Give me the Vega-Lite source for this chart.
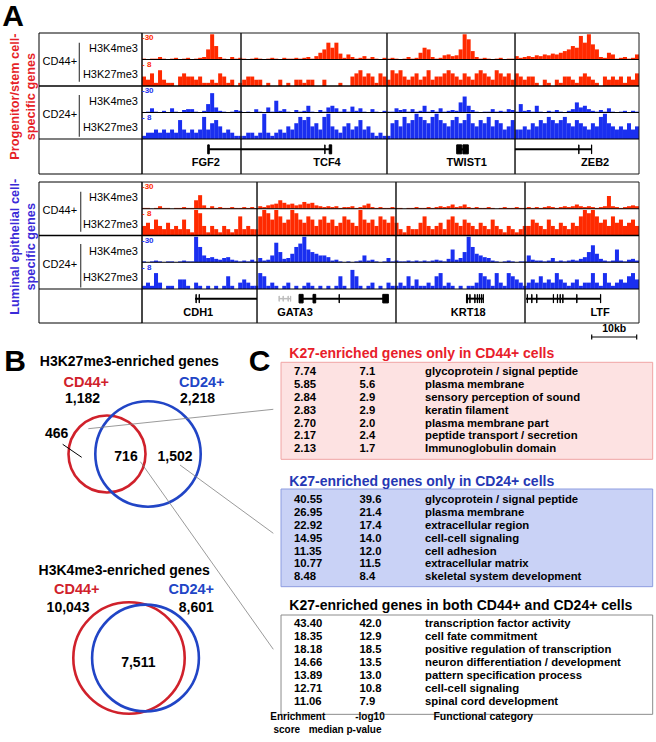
{
"$schema":"https://vega.github.io/schema/vega-lite/v6.json",
"width":656,"height":742,
"autosize":{"type":"none"},
"padding":0,
"background":"#ffffff",
"config":{"view":{"stroke":null},"axis":{"disable":true},"legend":{"disable":true},"font":"Liberation Sans"},
"data":{"values":[{}]},
"datasets":{
"signal":[
{"pos":0,"p1":1,"p2":3,"p3":0,"p4":1,"l1":1,"l2":3,"l3":1,"l4":1},
{"pos":1,"p1":0,"p2":2,"p3":1,"p4":2,"l1":1,"l2":4,"l3":0,"l4":2},
{"pos":2,"p1":1,"p2":4,"p3":5,"p4":2,"l1":0,"l2":2,"l3":1,"l4":1},
{"pos":3,"p1":1,"p2":1,"p3":1,"p4":3,"l1":1,"l2":5,"l3":2,"l4":5},
{"pos":4,"p1":3,"p2":5,"p3":0,"p4":2,"l1":3,"l2":3,"l3":1,"l4":2},
{"pos":5,"p1":1,"p2":2,"p3":2,"p4":3,"l1":1,"l2":2,"l3":0,"l4":0},
{"pos":6,"p1":0,"p2":1,"p3":0,"p4":2,"l1":1,"l2":4,"l3":1,"l4":1},
{"pos":7,"p1":1,"p2":1,"p3":5,"p4":3,"l1":0,"l2":2,"l3":1,"l4":1},
{"pos":8,"p1":2,"p2":0,"p3":1,"p4":2,"l1":1,"l2":3,"l3":0,"l4":0},
{"pos":9,"p1":0,"p2":3,"p3":0,"p4":6,"l1":1,"l2":2,"l3":1,"l4":3},
{"pos":10,"p1":1,"p2":4,"p3":3,"p4":3,"l1":2,"l2":5,"l3":2,"l4":3},
{"pos":11,"p1":2,"p2":3,"p3":4,"p4":2,"l1":1,"l2":2,"l3":1,"l4":1},
{"pos":12,"p1":0,"p2":3,"p3":4,"p4":3,"l1":1,"l2":1,"l3":1,"l4":0},
{"pos":13,"p1":1,"p2":2,"p3":1,"p4":2,"l1":10,"l2":8,"l3":30,"l4":2},
{"pos":14,"p1":2,"p2":3,"p3":0,"p4":3,"l1":16,"l2":7,"l3":18,"l4":1},
{"pos":15,"p1":3,"p2":1,"p3":2,"p4":7,"l1":4,"l2":3,"l3":8,"l4":0},
{"pos":16,"p1":12,"p2":1,"p3":10,"p4":3,"l1":1,"l2":1,"l3":5,"l4":1},
{"pos":17,"p1":30,"p2":2,"p3":23,"p4":5,"l1":3,"l2":3,"l3":6,"l4":0},
{"pos":18,"p1":16,"p2":1,"p3":6,"p4":6,"l1":1,"l2":2,"l3":4,"l4":1},
{"pos":19,"p1":3,"p2":4,"p3":2,"p4":4,"l1":2,"l2":1,"l3":3,"l4":0},
{"pos":20,"p1":1,"p2":3,"p3":1,"p4":2,"l1":1,"l2":3,"l3":5,"l4":1},
{"pos":21,"p1":0,"p2":1,"p3":0,"p4":3,"l1":1,"l2":2,"l3":6,"l4":4},
{"pos":22,"p1":3,"p2":2,"p3":1,"p4":2,"l1":2,"l2":1,"l3":3,"l4":1},
{"pos":23,"p1":1,"p2":0,"p3":3,"p4":1,"l1":1,"l2":2,"l3":2,"l4":0},
{"pos":24,"p1":2,"p2":1,"p3":2,"p4":1,"l1":1,"l2":6,"l3":1,"l4":2},
{"pos":25,"p1":1,"p2":2,"p3":0,"p4":1,"l1":2,"l2":2,"l3":2,"l4":3},
{"pos":26,"p1":0,"p2":3,"p3":1,"p4":2,"l1":1,"l2":3,"l3":1,"l4":2},
{"pos":27,"p1":1,"p2":3,"p3":0,"p4":2,"l1":2,"l2":2,"l3":3,"l4":1},
{"pos":28,"p1":2,"p2":2,"p3":4,"p4":1,"l1":1,"l2":2,"l3":1,"l4":1},
{"pos":29,"p1":1,"p2":2,"p3":1,"p4":2,"l1":3,"l2":6,"l3":5,"l4":5},
{"pos":30,"p1":0,"p2":0,"p3":0,"p4":8,"l1":2,"l2":8,"l3":2,"l4":4},
{"pos":31,"p1":1,"p2":1,"p3":6,"p4":2,"l1":4,"l2":7,"l3":3,"l4":1},
{"pos":32,"p1":2,"p2":0,"p3":1,"p4":1,"l1":5,"l2":5,"l3":8,"l4":2},
{"pos":33,"p1":1,"p2":0,"p3":14,"p4":2,"l1":6,"l2":8,"l3":23,"l4":1},
{"pos":34,"p1":0,"p2":2,"p3":2,"p4":3,"l1":10,"l2":6,"l3":12,"l4":0},
{"pos":35,"p1":2,"p2":0,"p3":4,"p4":2,"l1":7,"l2":4,"l3":4,"l4":1},
{"pos":36,"p1":1,"p2":1,"p3":1,"p4":4,"l1":5,"l2":5,"l3":5,"l4":2},
{"pos":37,"p1":1,"p2":0,"p3":0,"p4":3,"l1":6,"l2":8,"l3":10,"l4":0},
{"pos":38,"p1":2,"p2":2,"p3":3,"p4":5,"l1":4,"l2":7,"l3":18,"l4":1},
{"pos":39,"p1":1,"p2":2,"p3":1,"p4":7,"l1":5,"l2":5,"l3":22,"l4":0},
{"pos":40,"p1":2,"p2":1,"p3":2,"p4":6,"l1":8,"l2":4,"l3":30,"l4":1},
{"pos":41,"p1":3,"p2":2,"p3":8,"p4":7,"l1":6,"l2":6,"l3":15,"l4":2},
{"pos":42,"p1":1,"p2":2,"p3":1,"p4":4,"l1":7,"l2":5,"l3":12,"l4":1},
{"pos":43,"p1":4,"p2":0,"p3":0,"p4":5,"l1":4,"l2":3,"l3":10,"l4":0},
{"pos":44,"p1":8,"p2":0,"p3":3,"p4":3,"l1":3,"l2":5,"l3":8,"l4":1},
{"pos":45,"p1":12,"p2":2,"p3":1,"p4":7,"l1":2,"l2":6,"l3":8,"l4":0},
{"pos":46,"p1":20,"p2":0,"p3":6,"p4":8,"l1":3,"l2":4,"l3":6,"l4":1},
{"pos":47,"p1":14,"p2":0,"p3":8,"p4":4,"l1":2,"l2":5,"l3":2,"l4":0},
{"pos":48,"p1":20,"p2":0,"p3":5,"p4":3,"l1":3,"l2":3,"l3":3,"l4":1},
{"pos":49,"p1":7,"p2":1,"p3":1,"p4":2,"l1":1,"l2":4,"l3":1,"l4":4},
{"pos":50,"p1":2,"p2":0,"p3":4,"p4":4,"l1":2,"l2":6,"l3":0,"l4":1},
{"pos":51,"p1":6,"p2":0,"p3":1,"p4":5,"l1":2,"l2":5,"l3":1,"l4":0},
{"pos":52,"p1":3,"p2":3,"p3":7,"p4":3,"l1":3,"l2":4,"l3":0,"l4":6},
{"pos":53,"p1":1,"p2":4,"p3":2,"p4":4,"l1":1,"l2":3,"l3":1,"l4":4},
{"pos":54,"p1":2,"p2":5,"p3":5,"p4":6,"l1":2,"l2":8,"l3":2,"l4":1},
{"pos":55,"p1":4,"p2":3,"p3":1,"p4":3,"l1":4,"l2":5,"l3":8,"l4":0},
{"pos":56,"p1":1,"p2":4,"p3":0,"p4":4,"l1":6,"l2":4,"l3":2,"l4":1},
{"pos":57,"p1":3,"p2":3,"p3":4,"p4":2,"l1":2,"l2":5,"l3":3,"l4":2},
{"pos":58,"p1":1,"p2":1,"p3":1,"p4":1,"l1":1,"l2":3,"l3":1,"l4":0},
{"pos":59,"p1":0,"p2":4,"p3":0,"p4":2,"l1":2,"l2":6,"l3":0,"l4":1},
{"pos":60,"p1":2,"p2":3,"p3":2,"p4":1,"l1":1,"l2":5,"l3":1,"l4":0},
{"pos":61,"p1":1,"p2":2,"p3":1,"p4":1,"l1":1,"l2":4,"l3":5,"l4":2},
{"pos":62,"p1":2,"p2":5,"p3":1,"p4":5,"l1":2,"l2":6,"l3":1,"l4":1},
{"pos":63,"p1":1,"p2":4,"p3":5,"p4":6,"l1":1,"l2":4,"l3":2,"l4":1},
{"pos":64,"p1":0,"p2":5,"p3":3,"p4":4,"l1":1,"l2":2,"l3":1,"l4":2},
{"pos":65,"p1":1,"p2":3,"p3":4,"p4":7,"l1":0,"l2":1,"l3":1,"l4":1},
{"pos":66,"p1":3,"p2":2,"p3":1,"p4":5,"l1":1,"l2":3,"l3":2,"l4":4},
{"pos":67,"p1":1,"p2":3,"p3":4,"p4":6,"l1":1,"l2":2,"l3":1,"l4":1},
{"pos":68,"p1":2,"p2":4,"p3":1,"p4":8,"l1":2,"l2":2,"l3":2,"l4":3},
{"pos":69,"p1":8,"p2":2,"p3":2,"p4":7,"l1":1,"l2":4,"l3":1,"l4":1},
{"pos":70,"p1":14,"p2":3,"p3":8,"p4":6,"l1":1,"l2":6,"l3":2,"l4":1},
{"pos":71,"p1":12,"p2":5,"p3":1,"p4":5,"l1":2,"l2":3,"l3":1,"l4":2},
{"pos":72,"p1":3,"p2":2,"p3":3,"p4":7,"l1":1,"l2":2,"l3":2,"l4":1},
{"pos":73,"p1":1,"p2":3,"p3":1,"p4":8,"l1":2,"l2":3,"l3":3,"l4":4},
{"pos":74,"p1":2,"p2":3,"p3":5,"p4":6,"l1":3,"l2":4,"l3":2,"l4":5},
{"pos":75,"p1":5,"p2":4,"p3":1,"p4":5,"l1":2,"l2":2,"l3":1,"l4":1},
{"pos":76,"p1":6,"p2":5,"p3":2,"p4":4,"l1":3,"l2":5,"l3":4,"l4":2},
{"pos":77,"p1":4,"p2":4,"p3":3,"p4":6,"l1":5,"l2":6,"l3":15,"l4":1},
{"pos":78,"p1":5,"p2":3,"p3":2,"p4":7,"l1":2,"l2":4,"l3":3,"l4":0},
{"pos":79,"p1":12,"p2":2,"p3":12,"p4":5,"l1":3,"l2":3,"l3":5,"l4":1},
{"pos":80,"p1":30,"p2":4,"p3":19,"p4":6,"l1":5,"l2":5,"l3":12,"l4":0},
{"pos":81,"p1":24,"p2":3,"p3":8,"p4":8,"l1":2,"l2":4,"l3":30,"l4":1},
{"pos":82,"p1":10,"p2":2,"p3":3,"p4":5,"l1":1,"l2":3,"l3":18,"l4":1},
{"pos":83,"p1":3,"p2":4,"p3":1,"p4":4,"l1":2,"l2":2,"l3":10,"l4":2},
{"pos":84,"p1":1,"p2":5,"p3":0,"p4":6,"l1":1,"l2":4,"l3":8,"l4":5},
{"pos":85,"p1":2,"p2":4,"p3":1,"p4":5,"l1":1,"l2":3,"l3":6,"l4":4},
{"pos":86,"p1":1,"p2":3,"p3":1,"p4":7,"l1":2,"l2":2,"l3":5,"l4":3},
{"pos":87,"p1":0,"p2":2,"p3":4,"p4":4,"l1":1,"l2":5,"l3":2,"l4":1},
{"pos":88,"p1":1,"p2":5,"p3":1,"p4":6,"l1":0,"l2":3,"l3":1,"l4":5},
{"pos":89,"p1":2,"p2":4,"p3":2,"p4":5,"l1":1,"l2":2,"l3":0,"l4":2},
{"pos":90,"p1":0,"p2":3,"p3":1,"p4":3,"l1":2,"l2":1,"l3":1,"l4":1},
{"pos":91,"p1":1,"p2":4,"p3":4,"p4":4,"l1":1,"l2":3,"l3":2,"l4":5},
{"pos":92,"p1":1,"p2":2,"p3":3,"p4":6,"l1":1,"l2":2,"l3":1,"l4":4},
{"pos":93,"p1":4,"p2":4,"p3":1,"p4":3,"l1":2,"l2":1,"l3":0,"l4":3},
{"pos":94,"p1":2,"p2":3,"p3":10,"p4":3,"l1":1,"l2":2,"l3":1,"l4":2},
{"pos":95,"p1":3,"p2":2,"p3":2,"p4":4,"l1":1,"l2":3,"l3":1,"l4":1},
{"pos":96,"p1":4,"p2":3,"p3":3,"p4":3,"l1":2,"l2":3,"l3":8,"l4":2},
{"pos":97,"p1":3,"p2":3,"p3":1,"p4":5,"l1":1,"l2":5,"l3":3,"l4":3},
{"pos":98,"p1":5,"p2":1,"p3":8,"p4":4,"l1":2,"l2":4,"l3":2,"l4":2},
{"pos":99,"p1":4,"p2":0,"p3":1,"p4":6,"l1":1,"l2":3,"l3":2,"l4":4},
{"pos":100,"p1":6,"p2":2,"p3":0,"p4":5,"l1":2,"l2":2,"l3":1,"l4":2},
{"pos":101,"p1":5,"p2":1,"p3":2,"p4":7,"l1":3,"l2":5,"l3":2,"l4":3},
{"pos":102,"p1":7,"p2":0,"p3":1,"p4":6,"l1":2,"l2":3,"l3":5,"l4":2},
{"pos":103,"p1":6,"p2":2,"p3":3,"p4":5,"l1":1,"l2":2,"l3":1,"l4":5},
{"pos":104,"p1":8,"p2":1,"p3":1,"p4":6,"l1":2,"l2":4,"l3":2,"l4":3},
{"pos":105,"p1":10,"p2":3,"p3":0,"p4":7,"l1":3,"l2":3,"l3":1,"l4":2},
{"pos":106,"p1":12,"p2":3,"p3":2,"p4":5,"l1":2,"l2":2,"l3":2,"l4":1},
{"pos":107,"p1":16,"p2":2,"p3":4,"p4":4,"l1":3,"l2":4,"l3":3,"l4":2},
{"pos":108,"p1":14,"p2":1,"p3":12,"p4":6,"l1":5,"l2":3,"l3":2,"l4":3},
{"pos":109,"p1":28,"p2":3,"p3":6,"p4":5,"l1":3,"l2":6,"l3":4,"l4":1},
{"pos":110,"p1":20,"p2":4,"p3":8,"p4":4,"l1":2,"l2":8,"l3":6,"l4":2},
{"pos":111,"p1":30,"p2":3,"p3":4,"p4":3,"l1":3,"l2":7,"l3":12,"l4":2},
{"pos":112,"p1":18,"p2":2,"p3":2,"p4":5,"l1":2,"l2":8,"l3":20,"l4":5},
{"pos":113,"p1":12,"p2":1,"p3":1,"p4":4,"l1":1,"l2":6,"l3":10,"l4":2},
{"pos":114,"p1":3,"p2":0,"p3":3,"p4":7,"l1":2,"l2":4,"l3":4,"l4":1},
{"pos":115,"p1":2,"p2":3,"p3":1,"p4":8,"l1":3,"l2":5,"l3":2,"l4":5},
{"pos":116,"p1":8,"p2":2,"p3":5,"p4":5,"l1":15,"l2":3,"l3":1,"l4":2},
{"pos":117,"p1":6,"p2":3,"p3":1,"p4":4,"l1":3,"l2":6,"l3":2,"l4":1},
{"pos":118,"p1":1,"p2":2,"p3":0,"p4":3,"l1":2,"l2":4,"l3":15,"l4":2},
{"pos":119,"p1":2,"p2":3,"p3":1,"p4":4,"l1":1,"l2":5,"l3":2,"l4":3},
{"pos":120,"p1":3,"p2":1,"p3":2,"p4":3,"l1":2,"l2":3,"l3":1,"l4":2},
{"pos":121,"p1":1,"p2":3,"p3":0,"p4":5,"l1":3,"l2":4,"l3":3,"l4":4},
{"pos":122,"p1":2,"p2":2,"p3":2,"p4":3,"l1":4,"l2":5,"l3":4,"l4":5},
{"pos":123,"p1":6,"p2":4,"p3":1,"p4":4,"l1":3,"l2":3,"l3":2,"l4":3}
],
"windows":[
{"block":"stem","gene":"FGF2","winStart":0,"winEnd":22.0},
{"block":"stem","gene":"TCF4","winStart":22.0,"winEnd":54.44},
{"block":"stem","gene":"TWIST1","winStart":54.44,"winEnd":82.89},
{"block":"stem","gene":"ZEB2","winStart":82.89,"winEnd":110.44},
{"block":"luminal","gene":"CDH1","winStart":0,"winEnd":25.56},
{"block":"luminal","gene":"GATA3","winStart":25.56,"winEnd":56.44},
{"block":"luminal","gene":"KRT18","winStart":56.44,"winEnd":85.11},
{"block":"luminal","gene":"LTF","winStart":85.11,"winEnd":110.44}
],
"transcripts":[
{"block":"stem","gene":"FGF2","kind":"coding","start":14.73,"end":22.0,"tss":14.2},
{"block":"stem","gene":"TCF4","kind":"coding","start":22.0,"end":41.93,"tss":41.1},
{"block":"stem","gene":"TWIST1","kind":"coding","start":69.93,"end":72.51,"tss":72.15},
{"block":"stem","gene":"ZEB2","kind":"coding","start":82.89,"end":99.93,"tss":100.7},
{"block":"luminal","gene":"CDH1","kind":"coding","start":11.78,"end":25.56,"tss":12.5},
{"block":"luminal","gene":"GATA3-AS","kind":"noncoding","start":30.45,"end":33.05,"tss":30.45},
{"block":"luminal","gene":"GATA3","kind":"coding","start":34.96,"end":54.73,"tss":34.0},
{"block":"luminal","gene":"KRT18","kind":"coding","start":72.0,"end":75.84,"tss":72.5},
{"block":"luminal","gene":"LTF","kind":"coding","start":85.33,"end":101.93,"tss":101.8}
],
"exons":[
{"block":"stem","gene":"FGF2","kind":"coding","start":14.6,"end":14.95},
{"block":"stem","gene":"TCF4","kind":"coding","start":40.62,"end":40.67},
{"block":"stem","gene":"TCF4","kind":"coding","start":41.6,"end":42.15},
{"block":"stem","gene":"TWIST1","kind":"coding","start":69.93,"end":71.04},
{"block":"stem","gene":"TWIST1","kind":"coding","start":71.3,"end":72.51},
{"block":"stem","gene":"ZEB2","kind":"coding","start":97.05,"end":97.1},
{"block":"stem","gene":"ZEB2","kind":"coding","start":99.88,"end":99.93},
{"block":"luminal","gene":"CDH1","kind":"coding","start":12.0,"end":12.05},
{"block":"luminal","gene":"CDH1","kind":"coding","start":12.7,"end":12.75},
{"block":"luminal","gene":"GATA3-AS","kind":"noncoding","start":30.45,"end":30.5},
{"block":"luminal","gene":"GATA3-AS","kind":"noncoding","start":31.35,"end":31.4},
{"block":"luminal","gene":"GATA3-AS","kind":"noncoding","start":32.45,"end":32.5},
{"block":"luminal","gene":"GATA3-AS","kind":"noncoding","start":33.0,"end":33.05},
{"block":"luminal","gene":"GATA3","kind":"coding","start":34.9,"end":35.8},
{"block":"luminal","gene":"GATA3","kind":"coding","start":38.0,"end":38.6},
{"block":"luminal","gene":"GATA3","kind":"coding","start":43.8,"end":43.85},
{"block":"luminal","gene":"GATA3","kind":"coding","start":53.5,"end":54.75},
{"block":"luminal","gene":"KRT18","kind":"coding","start":72.1,"end":72.35},
{"block":"luminal","gene":"KRT18","kind":"coding","start":72.85,"end":72.9},
{"block":"luminal","gene":"KRT18","kind":"coding","start":73.95,"end":74.0},
{"block":"luminal","gene":"KRT18","kind":"coding","start":74.5,"end":74.55},
{"block":"luminal","gene":"KRT18","kind":"coding","start":74.95,"end":75.0},
{"block":"luminal","gene":"KRT18","kind":"coding","start":75.4,"end":75.45},
{"block":"luminal","gene":"KRT18","kind":"coding","start":75.8,"end":75.85},
{"block":"luminal","gene":"LTF","kind":"coding","start":85.6,"end":85.65},
{"block":"luminal","gene":"LTF","kind":"coding","start":86.6,"end":86.65},
{"block":"luminal","gene":"LTF","kind":"coding","start":87.7,"end":87.75},
{"block":"luminal","gene":"LTF","kind":"coding","start":91.4,"end":91.45},
{"block":"luminal","gene":"LTF","kind":"coding","start":92.3,"end":92.35},
{"block":"luminal","gene":"LTF","kind":"coding","start":92.9,"end":92.95},
{"block":"luminal","gene":"LTF","kind":"coding","start":93.5,"end":93.55},
{"block":"luminal","gene":"LTF","kind":"coding","start":96.6,"end":96.65},
{"block":"luminal","gene":"LTF","kind":"coding","start":101.88,"end":101.93}
],
"trackLabels":[
{"block":"stem","track":"p1","cell":"CD44+","mark":"H3K4me3","axisLabel":"-30"},
{"block":"stem","track":"p2","cell":"CD44+","mark":"H3K27me3","axisLabel":"- 8"},
{"block":"stem","track":"p3","cell":"CD24+","mark":"H3K4me3","axisLabel":"-30"},
{"block":"stem","track":"p4","cell":"CD24+","mark":"H3K27me3","axisLabel":"- 8"},
{"block":"luminal","track":"l1","cell":"CD44+","mark":"H3K4me3","axisLabel":"-30"},
{"block":"luminal","track":"l2","cell":"CD44+","mark":"H3K27me3","axisLabel":"- 8"},
{"block":"luminal","track":"l3","cell":"CD24+","mark":"H3K4me3","axisLabel":"-30"},
{"block":"luminal","track":"l4","cell":"CD24+","mark":"H3K27me3","axisLabel":"- 8"}
],
"venn":[
{"histone":"H3K27me3","set":"CD44+","total":1182},
{"histone":"H3K27me3","set":"CD24+","total":2218},
{"histone":"H3K4me3","set":"CD44+","total":10043},
{"histone":"H3K4me3","set":"CD24+","total":8601}
],
"vennRegions":[
{"histone":"H3K27me3","region":"CD44+ only","count":466},
{"histone":"H3K27me3","region":"both","count":716},
{"histone":"H3K27me3","region":"CD24+ only","count":1502},
{"histone":"H3K4me3","region":"both","count":7511}
],
"tables":[
{"group":"CD44+ only","title":"K27-enriched genes only in CD44+ cells"},
{"group":"CD24+ only","title":"K27-enriched genes only in CD24+ cells"},
{"group":"both","title":"K27-enriched genes in both CD44+ and CD24+ cells"}
],
"go":[
{"group":"CD44+ only","rank":1,"score":7.74,"pval":7.1,"category":"glycoprotein / signal peptide"},
{"group":"CD44+ only","rank":2,"score":5.85,"pval":5.6,"category":"plasma membrane"},
{"group":"CD44+ only","rank":3,"score":2.84,"pval":2.9,"category":"sensory perception of sound"},
{"group":"CD44+ only","rank":4,"score":2.83,"pval":2.9,"category":"keratin filament"},
{"group":"CD44+ only","rank":5,"score":2.70,"pval":2.0,"category":"plasma membrane part"},
{"group":"CD44+ only","rank":6,"score":2.17,"pval":2.4,"category":"peptide transport / secretion"},
{"group":"CD44+ only","rank":7,"score":2.13,"pval":1.7,"category":"Immunoglobulin domain"},
{"group":"CD24+ only","rank":1,"score":40.55,"pval":39.6,"category":"glycoprotein / signal peptide"},
{"group":"CD24+ only","rank":2,"score":26.95,"pval":21.4,"category":"plasma membrane"},
{"group":"CD24+ only","rank":3,"score":22.92,"pval":17.4,"category":"extracellular region"},
{"group":"CD24+ only","rank":4,"score":14.95,"pval":14.0,"category":"cell-cell signaling"},
{"group":"CD24+ only","rank":5,"score":11.35,"pval":12.0,"category":"cell adhesion"},
{"group":"CD24+ only","rank":6,"score":10.77,"pval":11.5,"category":"extracellular matrix"},
{"group":"CD24+ only","rank":7,"score":8.48,"pval":8.4,"category":"skeletal system development"},
{"group":"both","rank":1,"score":43.40,"pval":42.0,"category":"transcription factor activity"},
{"group":"both","rank":2,"score":18.35,"pval":12.9,"category":"cell fate commitment"},
{"group":"both","rank":3,"score":18.18,"pval":18.5,"category":"positive regulation of transcription"},
{"group":"both","rank":4,"score":14.66,"pval":13.5,"category":"neuron differentiation / development"},
{"group":"both","rank":5,"score":13.89,"pval":13.0,"category":"pattern specification process"},
{"group":"both","rank":6,"score":12.71,"pval":10.8,"category":"cell-cell signaling"},
{"group":"both","rank":7,"score":11.06,"pval":7.9,"category":"spinal cord development"}
]
},
"resolve":{"scale":{"x":"independent","y":"independent","size":"independent","color":"independent"}},
"layer":[
{
"data":{"name":"signal"},
"transform":[{"fold":["p1","p2","p3","p4","l1","l2","l3","l4"],"as":["track","value"]}],
"encoding":{"x":{"field":"pos","type":"ordinal","scale":{"type":"band","range":[142,639],"paddingInner":0,"paddingOuter":0}}},
"resolve":{"scale":{"y":"independent"}},
"layer":[
{"transform":[{"filter":{"field":"track","equal":"p1"}}],"mark":{"type":"bar","color":"#ff2a00"},"encoding":{"y":{"field":"value","type":"quantitative","scale":{"domain":[0,31.5],"range":[59.5,33],"nice":false}}}},
{"transform":[{"filter":{"field":"track","equal":"p2"}}],"mark":{"type":"bar","color":"#ff2a00"},"encoding":{"y":{"field":"value","type":"quantitative","scale":{"domain":[0,8.4],"range":[86,59.5],"nice":false}}}},
{"transform":[{"filter":{"field":"track","equal":"p3"}}],"mark":{"type":"bar","color":"#1a2ff0"},"encoding":{"y":{"field":"value","type":"quantitative","scale":{"domain":[0,31.5],"range":[112.5,86],"nice":false}}}},
{"transform":[{"filter":{"field":"track","equal":"p4"}}],"mark":{"type":"bar","color":"#1a2ff0"},"encoding":{"y":{"field":"value","type":"quantitative","scale":{"domain":[0,8.4],"range":[139,112.5],"nice":false}}}},
{"transform":[{"filter":{"field":"track","equal":"l1"}}],"mark":{"type":"bar","color":"#ff2a00"},"encoding":{"y":{"field":"value","type":"quantitative","scale":{"domain":[0,31.5],"range":[208.75,182],"nice":false}}}},
{"transform":[{"filter":{"field":"track","equal":"l2"}}],"mark":{"type":"bar","color":"#ff2a00"},"encoding":{"y":{"field":"value","type":"quantitative","scale":{"domain":[0,8.4],"range":[235.5,208.75],"nice":false}}}},
{"transform":[{"filter":{"field":"track","equal":"l3"}}],"mark":{"type":"bar","color":"#1a2ff0"},"encoding":{"y":{"field":"value","type":"quantitative","scale":{"domain":[0,31.5],"range":[262.25,235.5],"nice":false}}}},
{"transform":[{"filter":{"field":"track","equal":"l4"}}],"mark":{"type":"bar","color":"#1a2ff0"},"encoding":{"y":{"field":"value","type":"quantitative","scale":{"domain":[0,8.4],"range":[289,262.25],"nice":false}}}}
]
},
{
"layer":[
{"data":{"name":"windows"},"transform":[{"filter":{"field":"block","equal":"stem"}}],"mark":{"type":"rect","fill":"transparent","stroke":"#1a1a1a","strokeWidth":1},"encoding":{"x":{"field":"winStart","type":"quantitative","scale":{"domain":[-22.89,110.44],"range":[39,639],"nice":false,"zero":false}},"x2":{"field":"winEnd"},"y":{"datum":0,"scale":{"domain":[0,5.32],"range":[33,174],"nice":false,"zero":false}},"y2":{"datum":5.32}}},
{"mark":{"type":"rect","fill":"transparent","stroke":"#000000","strokeWidth":1},"encoding":{"x":{"datum":-22.89},"x2":{"datum":0},"y":{"datum":0},"y2":{"datum":5.32}}},
{"mark":{"type":"rule","color":"#000000","strokeWidth":1},"encoding":{"x":{"datum":0},"x2":{"datum":110.44},"y":{"datum":1}}},
{"mark":{"type":"rule","color":"#000000","strokeWidth":1.6},"encoding":{"x":{"datum":-22.89},"x2":{"datum":110.44},"y":{"datum":2}}},
{"mark":{"type":"rule","color":"#000000","strokeWidth":1},"encoding":{"x":{"datum":0},"x2":{"datum":110.44},"y":{"datum":3}}},
{"mark":{"type":"rule","color":"#000000","strokeWidth":1.2},"encoding":{"x":{"datum":-22.89},"x2":{"datum":110.44},"y":{"datum":4}}},
{"mark":{"type":"rule","color":"#444444","strokeWidth":1.2},"encoding":{"x":{"datum":-13.93},"y":{"datum":0.37},"y2":{"datum":1.84}}},
{"mark":{"type":"rule","color":"#444444","strokeWidth":1.2},"encoding":{"x":{"datum":-13.93},"y":{"datum":2.34},"y2":{"datum":3.91}}},
{"data":{"name":"transcripts"},"transform":[{"filter":{"field":"block","equal":"stem"}}],"mark":{"type":"rule","color":"#000000","strokeWidth":2},"encoding":{"x":{"field":"start","type":"quantitative"},"x2":{"field":"end"},"y":{"datum":4.39}}},
{"data":{"name":"exons"},"transform":[{"filter":{"field":"block","equal":"stem"}}],"mark":{"type":"rect","color":"#000000","stroke":"#000000","strokeWidth":1},"encoding":{"x":{"field":"start","type":"quantitative"},"x2":{"field":"end"},"y":{"datum":4.22},"y2":{"datum":4.56}}},
{"data":{"name":"transcripts"},"transform":[{"filter":{"field":"block","equal":"stem"}}],"mark":{"type":"text","fontSize":11,"fontWeight":"bold","align":"center","baseline":"middle","color":"#000000"},"encoding":{"x":{"field":"tss","type":"quantitative"},"y":{"datum":4.92},"text":{"field":"gene"}}},
{"mark":{"type":"text","text":["Progenitor/stem cell-","specific genes"],"angle":270,"fontSize":12.7,"fontWeight":"bold","color":"#e61e28","lineHeight":16,"align":"center","baseline":"middle"},"encoding":{"x":{"datum":-28.22},"y":{"datum":2.4}}},
{"mark":{"type":"text","text":"A","fontSize":30,"fontWeight":"bold","align":"center","baseline":"middle","color":"#000000"},"encoding":{"x":{"datum":-28.67},"y":{"datum":-0.62}}}
]
},
{
"layer":[
{"data":{"name":"windows"},"transform":[{"filter":{"field":"block","equal":"luminal"}}],"mark":{"type":"rect","fill":"transparent","stroke":"#1a1a1a","strokeWidth":1},"encoding":{"x":{"field":"winStart","type":"quantitative","scale":{"domain":[-22.89,110.44],"range":[39,639],"nice":false,"zero":false}},"x2":{"field":"winEnd"},"y":{"datum":0,"scale":{"domain":[0,5.27],"range":[182,323],"nice":false,"zero":false}},"y2":{"datum":5.27}}},
{"mark":{"type":"rect","fill":"transparent","stroke":"#000000","strokeWidth":1},"encoding":{"x":{"datum":-22.89},"x2":{"datum":0},"y":{"datum":0},"y2":{"datum":5.27}}},
{"mark":{"type":"rule","color":"#000000","strokeWidth":1},"encoding":{"x":{"datum":0},"x2":{"datum":110.44},"y":{"datum":1}}},
{"mark":{"type":"rule","color":"#000000","strokeWidth":1.6},"encoding":{"x":{"datum":-22.89},"x2":{"datum":110.44},"y":{"datum":2}}},
{"mark":{"type":"rule","color":"#000000","strokeWidth":1},"encoding":{"x":{"datum":0},"x2":{"datum":110.44},"y":{"datum":3}}},
{"mark":{"type":"rule","color":"#000000","strokeWidth":1.2},"encoding":{"x":{"datum":-22.89},"x2":{"datum":110.44},"y":{"datum":4}}},
{"mark":{"type":"rule","color":"#444444","strokeWidth":1.2},"encoding":{"x":{"datum":-13.62},"y":{"datum":0.36},"y2":{"datum":1.86}}},
{"mark":{"type":"rule","color":"#444444","strokeWidth":1.2},"encoding":{"x":{"datum":-13.62},"y":{"datum":2.32},"y2":{"datum":3.94}}},
{"data":{"name":"transcripts"},"transform":[{"filter":{"and":[{"field":"block","equal":"luminal"},{"field":"kind","equal":"noncoding"}]}}],"mark":{"type":"rule","color":"#bdbdbd","strokeWidth":1.5},"encoding":{"x":{"field":"start","type":"quantitative"},"x2":{"field":"end"},"y":{"datum":4.36}}},
{"data":{"name":"exons"},"transform":[{"filter":{"and":[{"field":"block","equal":"luminal"},{"field":"kind","equal":"noncoding"}]}}],"mark":{"type":"rect","color":"#bdbdbd","stroke":"#bdbdbd","strokeWidth":1},"encoding":{"x":{"field":"start","type":"quantitative"},"x2":{"field":"end"},"y":{"datum":4.26},"y2":{"datum":4.46}}},
{"data":{"name":"transcripts"},"transform":[{"filter":{"and":[{"field":"block","equal":"luminal"},{"field":"kind","equal":"coding"}]}}],"mark":{"type":"rule","color":"#000000","strokeWidth":2},"encoding":{"x":{"field":"start","type":"quantitative"},"x2":{"field":"end"},"y":{"datum":4.36}}},
{"data":{"name":"exons"},"transform":[{"filter":{"and":[{"field":"block","equal":"luminal"},{"field":"kind","equal":"coding"}]}}],"mark":{"type":"rect","color":"#000000","stroke":"#000000","strokeWidth":1},"encoding":{"x":{"field":"start","type":"quantitative"},"x2":{"field":"end"},"y":{"datum":4.2},"y2":{"datum":4.52}}},
{"data":{"name":"transcripts"},"transform":[{"filter":{"and":[{"field":"block","equal":"luminal"},{"field":"kind","equal":"coding"}]}}],"mark":{"type":"text","fontSize":11,"fontWeight":"bold","align":"center","baseline":"middle","color":"#000000"},"encoding":{"x":{"field":"tss","type":"quantitative"},"y":{"datum":4.886},"text":{"field":"gene"}}},
{"mark":{"type":"text","text":["Luminal epithelial cell-","specific genes"],"angle":270,"fontSize":12.7,"fontWeight":"bold","color":"#3a2ad8","lineHeight":16,"align":"center","baseline":"middle"},"encoding":{"x":{"datum":-28.22},"y":{"datum":2.42}}},
{"mark":{"type":"rule","color":"#000000","strokeWidth":1.2},"encoding":{"x":{"datum":99.93},"x2":{"datum":109.93},"y":{"datum":5.794}}},
{"mark":{"type":"rule","color":"#000000","strokeWidth":1.2},"encoding":{"x":{"datum":99.93},"y":{"datum":5.70},"y2":{"datum":5.89}}},
{"mark":{"type":"rule","color":"#000000","strokeWidth":1.2},"encoding":{"x":{"datum":109.93},"y":{"datum":5.70},"y2":{"datum":5.89}}},
{"mark":{"type":"text","text":"10kb","fontSize":10.5,"fontWeight":"bold","align":"center","baseline":"middle","color":"#000000"},"encoding":{"x":{"datum":104.93},"y":{"datum":5.507}}}
]
},
{
"data":{"name":"trackLabels"},
"transform":[{"filter":{"field":"block","equal":"stem"}}],
"resolve":{"scale":{"y":"independent"}},
"layer":[
{"mark":{"type":"text","align":"right","baseline":"middle","fontSize":11,"color":"#000000"},"encoding":{"x":{"datum":-0.9,"scale":{"domain":[-22.89,110.44],"range":[39,639],"nice":false,"zero":false}},"y":{"field":"track","type":"nominal","bandPosition":0.6,"scale":{"type":"band","domain":["p1","p2","p3","p4"],"range":[33,139],"paddingInner":0,"paddingOuter":0}},"text":{"field":"mark"}}},
{"mark":{"type":"text","align":"left","baseline":"middle","fontSize":8,"fontWeight":"bold"},"encoding":{"x":{"datum":0},"y":{"field":"track","type":"nominal","bandPosition":0.2,"scale":{"type":"band","domain":["p1","p2","p3","p4"],"range":[33,139],"paddingInner":0,"paddingOuter":0}},"text":{"field":"axisLabel"},"color":{"field":"cell","type":"nominal","scale":{"domain":["CD44+","CD24+"],"range":["#ff2a00","#1a2ff0"]}}}},
{"transform":[{"filter":{"field":"mark","equal":"H3K4me3"}}],"mark":{"type":"text","align":"left","baseline":"middle","fontSize":11,"color":"#000000"},"encoding":{"x":{"datum":-22.1},"y":{"field":"cell","type":"nominal","bandPosition":0.55,"scale":{"type":"band","domain":["CD44+","CD24+"],"range":[33,139],"paddingInner":0,"paddingOuter":0}},"text":{"field":"cell"}}}
]
},
{
"data":{"name":"trackLabels"},
"transform":[{"filter":{"field":"block","equal":"luminal"}}],
"resolve":{"scale":{"y":"independent"}},
"layer":[
{"mark":{"type":"text","align":"right","baseline":"middle","fontSize":11,"color":"#000000"},"encoding":{"x":{"datum":-0.9,"scale":{"domain":[-22.89,110.44],"range":[39,639],"nice":false,"zero":false}},"y":{"field":"track","type":"nominal","bandPosition":0.6,"scale":{"type":"band","domain":["l1","l2","l3","l4"],"range":[182,289],"paddingInner":0,"paddingOuter":0}},"text":{"field":"mark"}}},
{"mark":{"type":"text","align":"left","baseline":"middle","fontSize":8,"fontWeight":"bold"},"encoding":{"x":{"datum":0},"y":{"field":"track","type":"nominal","bandPosition":0.2,"scale":{"type":"band","domain":["l1","l2","l3","l4"],"range":[182,289],"paddingInner":0,"paddingOuter":0}},"text":{"field":"axisLabel"},"color":{"field":"cell","type":"nominal","scale":{"domain":["CD44+","CD24+"],"range":["#ff2a00","#1a2ff0"]}}}},
{"transform":[{"filter":{"field":"mark","equal":"H3K4me3"}}],"mark":{"type":"text","align":"left","baseline":"middle","fontSize":11,"color":"#000000"},"encoding":{"x":{"datum":-22.1},"y":{"field":"cell","type":"nominal","bandPosition":0.55,"scale":{"type":"band","domain":["CD44+","CD24+"],"range":[182,289],"paddingInner":0,"paddingOuter":0}},"text":{"field":"cell"}}}
]
},
{
"data":{"name":"venn"},
"transform":[{"filter":{"field":"histone","equal":"H3K27me3"}}],
"resolve":{"scale":{"x":"independent"}},
"layer":[
{"mark":{"type":"point","shape":"circle","filled":false,"strokeWidth":2.6,"opacity":1},"encoding":{"x":{"field":"set","type":"nominal","scale":{"type":"point","domain":["CD44+","CD24+"],"range":[107,148],"padding":0}},"y":{"datum":10.9,"scale":{"domain":[0,39.7],"range":[345,742],"nice":false,"zero":false}},"size":{"field":"total","type":"quantitative","scale":{"domain":[1182,2218],"range":[5929,11109],"zero":false}},"color":{"field":"set","type":"nominal","scale":{"domain":["CD44+","CD24+"],"range":["#d0212b","#2145c6"]}}}},
{"mark":{"type":"text","fontSize":14.5,"fontWeight":"bold","align":"center","baseline":"middle"},"encoding":{"x":{"field":"set","type":"nominal","scale":{"type":"point","domain":["CD44+","CD24+"],"range":[86.3,201.7],"padding":0}},"y":{"datum":3.83},"text":{"field":"set"},"color":{"field":"set","type":"nominal","scale":{"domain":["CD44+","CD24+"],"range":["#d0212b","#2145c6"]}}}},
{"mark":{"type":"text","fontSize":14,"fontWeight":"bold","align":"center","baseline":"middle","color":"#000000"},"encoding":{"x":{"field":"set","type":"nominal","scale":{"type":"point","domain":["CD44+","CD24+"],"range":[82.5,197.5],"padding":0}},"y":{"datum":5.4},"text":{"field":"total","type":"quantitative","format":","}}}
]
},
{
"data":{"name":"venn"},
"transform":[{"filter":{"field":"histone","equal":"H3K4me3"}}],
"resolve":{"scale":{"x":"independent"}},
"layer":[
{"mark":{"type":"point","shape":"circle","filled":false,"strokeWidth":2.6,"opacity":1},"encoding":{"x":{"field":"set","type":"nominal","scale":{"type":"point","domain":["CD44+","CD24+"],"range":[129,145.5],"padding":0}},"y":{"datum":31.3,"scale":{"domain":[0,39.7],"range":[345,742],"nice":false,"zero":false}},"size":{"field":"total","type":"quantitative","scale":{"domain":[8601,10043],"range":[11406,12410],"zero":false}},"color":{"field":"set","type":"nominal","scale":{"domain":["CD44+","CD24+"],"range":["#d0212b","#2145c6"]}}}},
{"mark":{"type":"text","fontSize":14.5,"fontWeight":"bold","align":"center","baseline":"middle"},"encoding":{"x":{"field":"set","type":"nominal","scale":{"type":"point","domain":["CD44+","CD24+"],"range":[76.7,191.3],"padding":0}},"y":{"datum":24.5},"text":{"field":"set"},"color":{"field":"set","type":"nominal","scale":{"domain":["CD44+","CD24+"],"range":["#d0212b","#2145c6"]}}}},
{"mark":{"type":"text","fontSize":14,"fontWeight":"bold","align":"center","baseline":"middle","color":"#000000"},"encoding":{"x":{"field":"set","type":"nominal","scale":{"type":"point","domain":["CD44+","CD24+"],"range":[68,196.3],"padding":0}},"y":{"datum":26.33},"text":{"field":"total","type":"quantitative","format":","}}}
]
},
{
"layer":[
{"mark":{"type":"text","text":"B","fontSize":30,"fontWeight":"bold","align":"center","baseline":"middle","color":"#000000"},"encoding":{"x":{"datum":1.5,"scale":{"domain":[0,65.6],"range":[0,656],"nice":false,"zero":false}},"y":{"datum":1.7,"scale":{"domain":[0,39.7],"range":[345,742],"nice":false,"zero":false}}}},
{"mark":{"type":"text","text":"H3K27me3-enriched genes","fontSize":14,"fontWeight":"bold","align":"center","baseline":"middle","color":"#000000"},"encoding":{"x":{"datum":12.93},"y":{"datum":1.73}}},
{"mark":{"type":"text","text":"H3K4me3-enriched genes","fontSize":14,"fontWeight":"bold","align":"center","baseline":"middle","color":"#000000"},"encoding":{"x":{"datum":12.42},"y":{"datum":22.6}}},
{"data":{"name":"vennRegions"},"transform":[{"filter":{"and":[{"field":"histone","equal":"H3K27me3"},{"field":"region","equal":"CD44+ only"}]}}],"mark":{"type":"text","fontSize":14,"fontWeight":"bold","align":"center","baseline":"middle","color":"#000000"},"encoding":{"x":{"datum":5.67},"y":{"datum":8.9},"text":{"field":"count","type":"quantitative","format":","}}},
{"data":{"name":"vennRegions"},"transform":[{"filter":{"and":[{"field":"histone","equal":"H3K27me3"},{"field":"region","equal":"both"}]}}],"mark":{"type":"text","fontSize":14,"fontWeight":"bold","align":"center","baseline":"middle","color":"#000000"},"encoding":{"x":{"datum":12.6},"y":{"datum":11.23},"text":{"field":"count","type":"quantitative","format":","}}},
{"data":{"name":"vennRegions"},"transform":[{"filter":{"and":[{"field":"histone","equal":"H3K27me3"},{"field":"region","equal":"CD24+ only"}]}}],"mark":{"type":"text","fontSize":14,"fontWeight":"bold","align":"center","baseline":"middle","color":"#000000"},"encoding":{"x":{"datum":17.5},"y":{"datum":11.23},"text":{"field":"count","type":"quantitative","format":","}}},
{"data":{"name":"vennRegions"},"transform":[{"filter":{"and":[{"field":"histone","equal":"H3K4me3"},{"field":"region","equal":"both"}]}}],"mark":{"type":"text","fontSize":14,"fontWeight":"bold","align":"center","baseline":"middle","color":"#000000"},"encoding":{"x":{"datum":13.83},"y":{"datum":31.83},"text":{"field":"count","type":"quantitative","format":","}}},
{"mark":{"type":"rule","color":"#000000","strokeWidth":1},"encoding":{"x":{"datum":6.27},"y":{"datum":9.93},"x2":{"datum":8.17},"y2":{"datum":11.23}}},
{"mark":{"type":"rule","color":"#808080","strokeWidth":0.8},"encoding":{"x":{"datum":8.83},"y":{"datum":8.37},"x2":{"datum":27.33},"y2":{"datum":6.43}}},
{"mark":{"type":"rule","color":"#808080","strokeWidth":0.8},"encoding":{"x":{"datum":18.0},"y":{"datum":12.0},"x2":{"datum":27.33},"y2":{"datum":18.83}}},
{"mark":{"type":"rule","color":"#808080","strokeWidth":0.8},"encoding":{"x":{"datum":14.04},"y":{"datum":11.67},"x2":{"datum":27.33},"y2":{"datum":30.43}}}
]
},
{
"layer":[
{"data":{"name":"tables"},"transform":[{"filter":{"field":"group","equal":"CD44+ only"}}],"mark":{"type":"rect","color":"#fde2e2","stroke":"#f0a4a4","strokeWidth":1},"encoding":{"x":{"datum":-0.198,"scale":{"domain":[0,2],"range":[294,425],"nice":false,"zero":false}},"x2":{"datum":5.476},"y":{"datum":0.247,"scale":{"domain":[0,8],"range":[359.12,462.16],"nice":false,"zero":false}},"y2":{"datum":7.78}}},
{"data":{"name":"tables"},"transform":[{"filter":{"field":"group","equal":"CD44+ only"}}],"mark":{"type":"text","align":"left","baseline":"middle","fontSize":14,"fontWeight":"bold","color":"#e8202a"},"encoding":{"x":{"datum":-0.072},"y":{"datum":-0.4},"text":{"field":"title"}}},
{"data":{"name":"go"},"transform":[{"filter":{"field":"group","equal":"CD44+ only"}}],"mark":{"type":"text","align":"left","baseline":"middle","fontSize":11.3,"fontWeight":"bold","color":"#000000"},"encoding":{"x":{"datum":0},"y":{"field":"rank","type":"quantitative"},"text":{"field":"score","type":"quantitative","format":".2f"}}},
{"data":{"name":"go"},"transform":[{"filter":{"field":"group","equal":"CD44+ only"}}],"mark":{"type":"text","align":"left","baseline":"middle","fontSize":11.3,"fontWeight":"bold","color":"#000000"},"encoding":{"x":{"datum":1},"y":{"field":"rank","type":"quantitative"},"text":{"field":"pval","type":"quantitative","format":".1f"}}},
{"data":{"name":"go"},"transform":[{"filter":{"field":"group","equal":"CD44+ only"}}],"mark":{"type":"text","align":"left","baseline":"middle","fontSize":11.3,"fontWeight":"bold","color":"#000000"},"encoding":{"x":{"datum":2},"y":{"field":"rank","type":"quantitative"},"text":{"field":"category"}}},
{"mark":{"type":"text","text":"C","fontSize":30,"fontWeight":"bold","align":"center","baseline":"middle","color":"#000000"},"encoding":{"x":{"datum":-0.524},"y":{"datum":0.2}}}
]
},
{
"layer":[
{"data":{"name":"tables"},"transform":[{"filter":{"field":"group","equal":"CD24+ only"}}],"mark":{"type":"rect","color":"#c9d2f6","stroke":"#8e9ce0","strokeWidth":1},"encoding":{"x":{"datum":-0.198,"scale":{"domain":[0,2],"range":[294,425],"nice":false,"zero":false}},"x2":{"datum":5.476},"y":{"datum":0.146,"scale":{"domain":[0,8],"range":[487.12,590.16],"nice":false,"zero":false}},"y2":{"datum":7.73}}},
{"data":{"name":"tables"},"transform":[{"filter":{"field":"group","equal":"CD24+ only"}}],"mark":{"type":"text","align":"left","baseline":"middle","fontSize":14,"fontWeight":"bold","color":"#2537b4"},"encoding":{"x":{"datum":-0.072},"y":{"datum":-0.42},"text":{"field":"title"}}},
{"data":{"name":"go"},"transform":[{"filter":{"field":"group","equal":"CD24+ only"}}],"mark":{"type":"text","align":"left","baseline":"middle","fontSize":11.3,"fontWeight":"bold","color":"#000000"},"encoding":{"x":{"datum":0},"y":{"field":"rank","type":"quantitative"},"text":{"field":"score","type":"quantitative","format":".2f"}}},
{"data":{"name":"go"},"transform":[{"filter":{"field":"group","equal":"CD24+ only"}}],"mark":{"type":"text","align":"left","baseline":"middle","fontSize":11.3,"fontWeight":"bold","color":"#000000"},"encoding":{"x":{"datum":1},"y":{"field":"rank","type":"quantitative"},"text":{"field":"pval","type":"quantitative","format":".1f"}}},
{"data":{"name":"go"},"transform":[{"filter":{"field":"group","equal":"CD24+ only"}}],"mark":{"type":"text","align":"left","baseline":"middle","fontSize":11.3,"fontWeight":"bold","color":"#000000"},"encoding":{"x":{"datum":2},"y":{"field":"rank","type":"quantitative"},"text":{"field":"category"}}}
]
},
{
"layer":[
{"data":{"name":"tables"},"transform":[{"filter":{"field":"group","equal":"both"}}],"mark":{"type":"rect","color":"#ffffff","stroke":"#8c8c8c","strokeWidth":1},"encoding":{"x":{"datum":-0.198,"scale":{"domain":[0,2],"range":[294,425],"nice":false,"zero":false}},"x2":{"datum":5.476},"y":{"datum":0.28,"scale":{"domain":[0,8],"range":[611.4,714.6],"nice":false,"zero":false}},"y2":{"datum":7.98}}},
{"data":{"name":"tables"},"transform":[{"filter":{"field":"group","equal":"both"}}],"mark":{"type":"text","align":"left","baseline":"middle","fontSize":14,"fontWeight":"bold","color":"#000000"},"encoding":{"x":{"datum":-0.072},"y":{"datum":-0.44},"text":{"field":"title"}}},
{"data":{"name":"go"},"transform":[{"filter":{"field":"group","equal":"both"}}],"mark":{"type":"text","align":"left","baseline":"middle","fontSize":11.3,"fontWeight":"bold","color":"#000000"},"encoding":{"x":{"datum":0},"y":{"field":"rank","type":"quantitative"},"text":{"field":"score","type":"quantitative","format":".2f"}}},
{"data":{"name":"go"},"transform":[{"filter":{"field":"group","equal":"both"}}],"mark":{"type":"text","align":"left","baseline":"middle","fontSize":11.3,"fontWeight":"bold","color":"#000000"},"encoding":{"x":{"datum":1},"y":{"field":"rank","type":"quantitative"},"text":{"field":"pval","type":"quantitative","format":".1f"}}},
{"data":{"name":"go"},"transform":[{"filter":{"field":"group","equal":"both"}}],"mark":{"type":"text","align":"left","baseline":"middle","fontSize":11.3,"fontWeight":"bold","color":"#000000"},"encoding":{"x":{"datum":2},"y":{"field":"rank","type":"quantitative"},"text":{"field":"category"}}},
{"mark":{"type":"text","text":"Enrichment","fontSize":10,"fontWeight":"bold","align":"center","baseline":"middle","color":"#000000"},"encoding":{"x":{"datum":0.058},"y":{"datum":8.17}}},
{"mark":{"type":"text","text":"score","fontSize":10,"fontWeight":"bold","align":"center","baseline":"middle","color":"#000000"},"encoding":{"x":{"datum":-0.11},"y":{"datum":9.18}}},
{"mark":{"type":"text","text":"-log10","fontSize":10,"fontWeight":"bold","align":"center","baseline":"middle","color":"#000000"},"encoding":{"x":{"datum":1.16},"y":{"datum":8.17}}},
{"mark":{"type":"text","text":"median p-value","fontSize":10,"fontWeight":"bold","align":"center","baseline":"middle","color":"#000000"},"encoding":{"x":{"datum":0.78},"y":{"datum":9.18}}},
{"mark":{"type":"text","text":"Functional category","fontSize":10.5,"fontWeight":"bold","align":"center","baseline":"middle","color":"#000000"},"encoding":{"x":{"datum":2.89},"y":{"datum":8.17}}}
]
}
]
}
